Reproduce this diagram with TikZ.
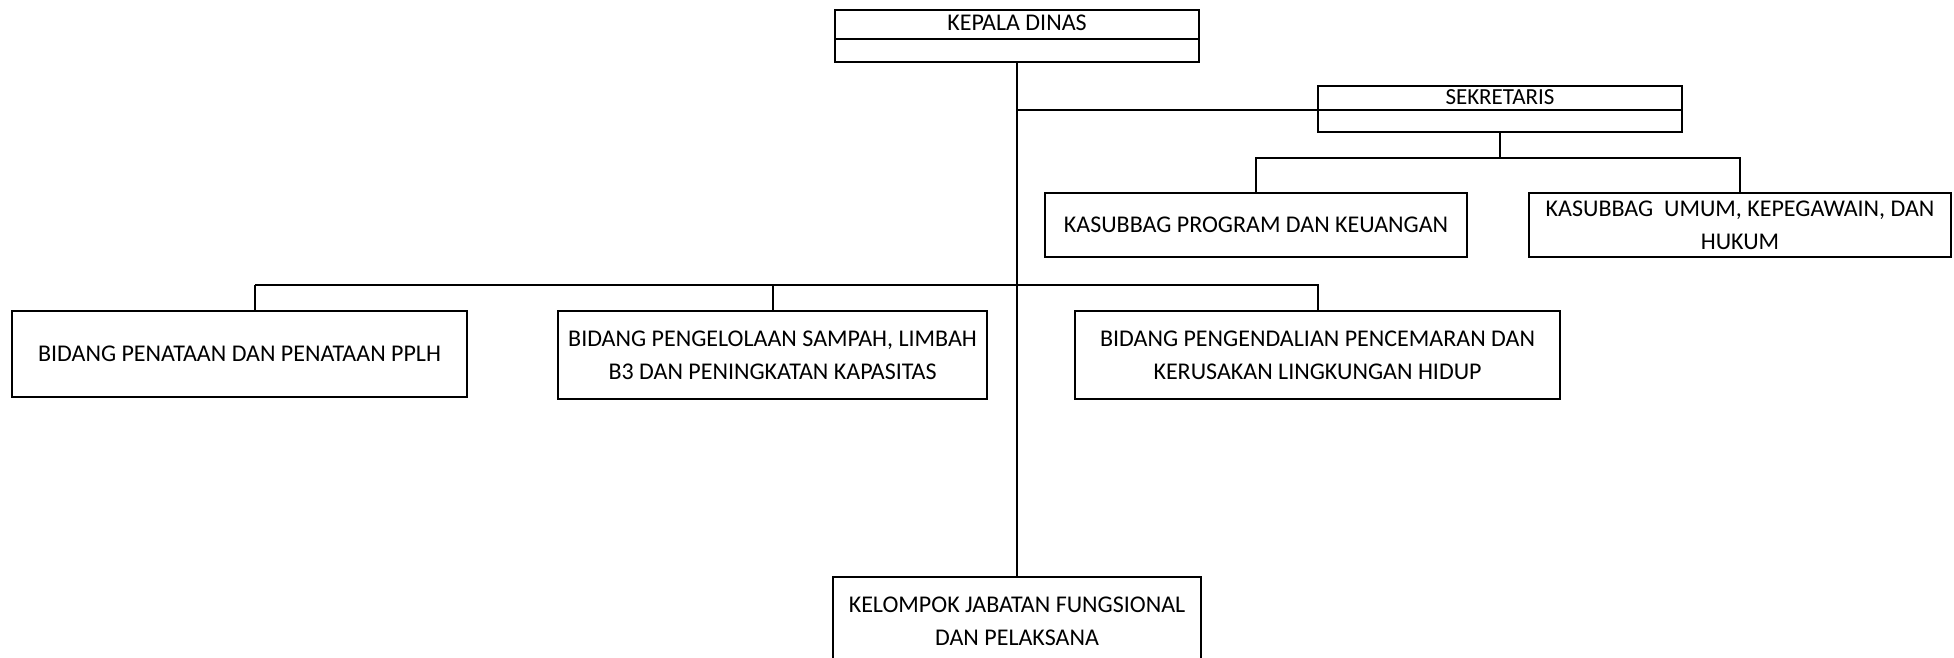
\documentclass[tikz,border=0pt]{standalone}
\usepackage{fontspec}
\setmainfont{Carlito}
\usetikzlibrary{positioning}

\begin{document}
\begin{tikzpicture}[x=0.5pt, y=-0.5pt,
	kotak/.style={draw, line width=1pt, outer sep=0pt, align=center, inner sep=2pt, font=\fontsize{12}{16.5}\selectfont},
	kepalakotak/.style={kotak, inner sep=0pt, text height=8.5pt, text depth=2pt},
	garis/.style={line width=1pt}]
			%%%%% START %%%%%
			
			\useasboundingbox (0,0) rectangle (1954,658);
			
			\node[kepalakotak, minimum width=182pt, minimum height=14.5pt, anchor=north] (kepala) at (1017,10) {KEPALA DINAS};
			\node[kotak, minimum width=182pt, minimum height=11.5pt, below=0pt of kepala] (kepalab) {};
			
			\node[kepalakotak, minimum width=182pt, minimum height=12pt, anchor=north, font=\fontsize{11.5}{14}\selectfont] (sekretaris) at (1500,86) {SEKRETARIS};
			\node[kotak, minimum width=182pt, minimum height=11pt, below=0pt of sekretaris] (sekretarisb) {};
			
			\node[kotak, minimum width=211pt, minimum height=32pt] (program) at (1256,225) {KASUBBAG PROGRAM DAN KEUANGAN};
			\node[kotak, minimum width=211pt, minimum height=32pt] (umum) at (1740,225) {KASUBBAG\ \ UMUM, KEPEGAWAIN, DAN\\HUKUM};
			
			\node[kotak, minimum width=227.5pt, minimum height=43pt] (penataan) at (239.5,354) {BIDANG PENATAAN DAN PENATAAN PPLH};
			\node[kotak, minimum width=214.5pt, minimum height=44pt] (pengelolaan) at (772.5,355) {BIDANG PENGELOLAAN SAMPAH, LIMBAH\\B3 DAN PENINGKATAN KAPASITAS};
			\node[kotak, minimum width=242.5pt, minimum height=44pt] (pengendalian) at (1317.5,355) {BIDANG PENGENDALIAN PENCEMARAN DAN\\KERUSAKAN LINGKUNGAN HIDUP};
			
			\node[kotak, minimum width=184pt, minimum height=44pt, anchor=north] (kelompok) at (1017,577) {KELOMPOK JABATAN FUNGSIONAL\\DAN PELAKSANA};
			
			% garis
			\draw[garis] (kepalab.south) -- (kelompok.north);
			\draw[garis] (sekretaris.south west) -- (sekretaris.south west -| kepalab.south);
			
			\path (sekretarisb.south) ++(0,26) coordinate (cabangsek);
			\draw[garis] (sekretarisb.south) -- (cabangsek);
			\draw[garis] (program.north) |- (cabangsek) -| (umum.north);
			
			\coordinate (cabang) at (255,285);
			\draw[garis] (cabang) -- (cabang |- penataan.north);
			\draw[garis] (cabang) -| (pengendalian.north);
			\draw[garis] (pengelolaan.north) -- (pengelolaan.north |- cabang);
			
			%%%%% END %%%%%
		\end{tikzpicture}
\end{document}
